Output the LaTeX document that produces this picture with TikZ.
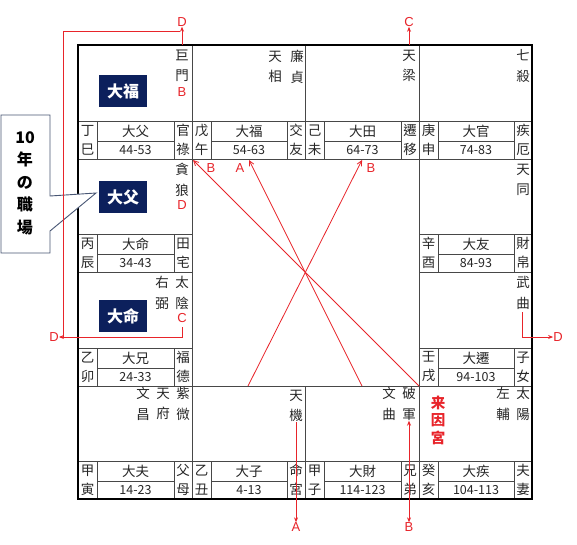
\documentclass[tikz,border=0pt]{standalone}
\usepackage{fontspec}
\setmainfont{Liberation Sans}
\newfontfamily\cjk{Noto Sans CJK TC}
\newfontfamily\cjkjp{Noto Sans CJK JP}
\usetikzlibrary{arrows.meta}
\definecolor{navyc}{RGB}{12,32,92}
\definecolor{redc}{RGB}{232,36,42}
\definecolor{callc}{RGB}{72,86,116}
\tikzset{
  gridln/.style={draw=black!72, line width=0.9pt},
  outerln/.style={draw=black, line width=2pt},
  star/.style={font=\cjk\fontsize{13.5}{20.5}\selectfont, text=black!85, align=center, inner sep=0pt},
  stripc/.style={font=\cjk\fontsize{13.5}{19}\selectfont, text=black!85, align=center, inner sep=0pt},
  numc/.style={font=\cjk\fontsize{12.5}{14}\selectfont, text=black!85, inner sep=0pt},
  badge/.style={fill=navyc, text=white, font=\cjk\bfseries\fontsize{16}{18}\selectfont, minimum width=48pt, minimum height=32pt, inner sep=0pt},
  lbl/.style={text=redc, font=\fontsize{13}{14}\selectfont, inner sep=0pt},
  rline/.style={draw=redc, line width=0.8pt},
  rarrow/.style={rline, -{Stealth[length=5pt,width=4pt]}},
  rbarb/.style={rline, -{Straight Barb[length=5pt,width=5pt]}},
  callout/.style={draw=callc, line width=0.9pt, fill=white},
  calltext/.style={font=\cjkjp\bfseries\fontsize{16}{22.5}\selectfont, align=center, inner sep=0pt},
  laigong/.style={font=\cjk\bfseries\fontsize{14.5}{17.5}\selectfont, text=redc, align=center, inner sep=0pt},
}
% #1 name, #2 x0, #3 x1, #4 y bottom, #5 stems, #6 decade name, #7 range, #8 palace
\newcommand\palace[8]{%
  \draw[gridln] (#2,{#4-38}) -- (#3,{#4-38});
  \draw[gridln] ({#2+19},{#4-38}) -- ({#2+19},#4);
  \draw[gridln] ({#3-18},{#4-38}) -- ({#3-18},#4);
  \draw[gridln] ({#2+19},{#4-18}) -- ({#3-18},{#4-18});
  \node[stripc] (#1s) at ({#2+9.5},{#4-19}) {#5};
  \node[stripc] (#1n) at ({(#2+#3)/2+0.5},{#4-28}) {#6};
  \node[numc] (#1r) at ({(#2+#3)/2+0.5},{#4-9}) {#7};
  \node[stripc] (#1p) at ({#3-9},{#4-19}) {#8};
}
\begin{document}
\begin{tikzpicture}[x=1pt,y=-1pt]
\useasboundingbox (0,0) rectangle (577,544);
\fill[white] (0,0) rectangle (577,544);
% grid
\draw[gridln] (192,45) -- (192,499);
\draw[gridln] (419,45) -- (419,499);
\draw[gridln] (305,45) -- (305,159);
\draw[gridln] (305,386) -- (305,499);
\draw[gridln] (78,159) -- (532,159);
\draw[gridln] (78,386) -- (532,386);
\draw[gridln] (78,272) -- (192,272);
\draw[gridln] (419,272) -- (532,272);
% palaces
\palace{si}{78}{192}{159}{丁\\巳}{大父}{44-53}{官\\祿}
\palace{wu}{192}{305}{159}{戊\\午}{大福}{54-63}{交\\友}
\palace{wei}{305}{419}{159}{己\\未}{大田}{64-73}{遷\\移}
\palace{shen}{419}{532}{159}{庚\\申}{大官}{74-83}{疾\\厄}
\palace{chen}{78}{192}{272}{丙\\辰}{大命}{34-43}{田\\宅}
\palace{you}{419}{532}{272}{辛\\酉}{大友}{84-93}{財\\帛}
\palace{mao}{78}{192}{386}{乙\\卯}{大兄}{24-33}{福\\德}
\palace{xu}{419}{532}{386}{壬\\戌}{大遷}{94-103}{子\\女}
\palace{yin}{78}{192}{499}{甲\\寅}{大夫}{14-23}{父\\母}
\palace{chou}{192}{305}{499}{乙\\丑}{大子}{4-13}{命\\宮}
\palace{zi}{305}{419}{499}{甲\\子}{大財}{114-123}{兄\\弟}
\palace{hai}{419}{532}{499}{癸\\亥}{大疾}{104-113}{夫\\妻}
\draw[outerln] (78,45) rectangle (532,499);
% stars
\node[star] (jumen) at (182,66) {巨\\門};
\node[star] (tianxiang) at (275,67) {天\\相};
\node[star] (lianzhen) at (297,67) {廉\\貞};
\node[star] (tianliang) at (409,66) {天\\梁};
\node[star] (qisha) at (523,66) {七\\殺};
\node[star] (tanlang) at (182,180) {貪\\狼};
\node[star] (tiantong) at (523,180) {天\\同};
\node[star] (youbi) at (162,293) {右\\弼};
\node[star] (taiyin) at (182,293) {太\\陰};
\node[star] (wuqu) at (523,293) {武\\曲};
\node[star] (wenchang) at (143,404) {文\\昌};
\node[star] (tianfu) at (163,404) {天\\府};
\node[star] (ziwei) at (183,404) {紫\\微};
\node[star] (tianji) at (296,406) {天\\機};
\node[star] (wenqu) at (389,404) {文\\曲};
\node[star] (pojun) at (409,404) {破\\軍};
\node[star] (zuofu) at (503,404) {左\\輔};
\node[star] (taiyang) at (523,404) {太\\陽};
\node[laigong] (laiyin) at (438,420) {来\\因\\宮};
% badges
\node[badge] (bfu) at (123,91) {大福};
\node[badge] (bfq) at (123,197) {大父};
\node[badge] (bming) at (123,316) {大命};
% callout
\coordinate (tip) at (96,193);
\draw[callout] (1,115) -- (50,115) -- (50,196) -- (tip) -- (50,231) -- (50,253) -- (1,253) -- cycle;
\node[calltext] (calltxt) at (25,183) {10\\年\\の\\職\\場};
% red labels inside cells
\node[lbl] (jB) at (182,92) {B};
\node[lbl] (tD) at (182,205) {D};
\node[lbl] (yC) at (182,318) {C};
% outside labels
\node[lbl] (topD) at (182,22) {D};
\node[lbl] (topC) at (409,22) {C};
\node[lbl] (leftD) at (54,337) {D};
\node[lbl] (rightD) at (558,337) {D};
\node[lbl] (botA) at (296,527) {A};
\node[lbl] (botB) at (409,527) {B};
% outer arrows
\coordinate (jtop) at (182,45);
\coordinate (ltop) at (409,45);
\draw[rarrow] (jtop) -- (topD.south);
\draw[rarrow] (ltop) -- (topC.south);
\coordinate (cc) at (182,327);
\coordinate (lcorner) at (63,337);
\draw[rarrow] (cc) |- (leftD.east);
\draw[rline] (lcorner) |- (180,31);
\coordinate (wq) at (522,312);
\draw[rarrow] (wq) |- (rightD.west);
\draw[rarrow] (tianji.south) -- (botA.north);
\draw[rline, {Stealth[length=5pt,width=4pt]}-{Stealth[length=5pt,width=4pt]}] (pojun.south) -- (botB.north);
% center arrows
\coordinate (c1s) at (248,386);
\coordinate (c1e) at (362,160);
\coordinate (c2s) at (362,386);
\coordinate (c2e) at (249,160);
\coordinate (c3s) at (419,386);
\coordinate (c3e) at (193,160);
\draw[rbarb] (c1s) -- (c1e);
\draw[rbarb] (c2s) -- (c2e);
\draw[rbarb] (c3s) -- (c3e);
\node[lbl] (cB1) at (371,168) {B};
\node[lbl] (cA) at (240,168) {A};
\node[lbl] (cB2) at (211,168) {B};
\end{tikzpicture}
\end{document}
